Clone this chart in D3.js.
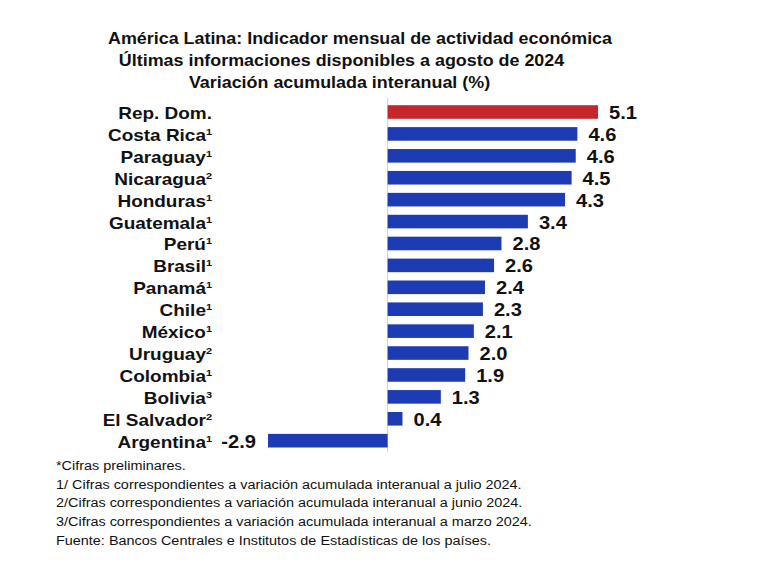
<!DOCTYPE html>
<html><head><meta charset="utf-8">
<script src="https://cdn.jsdelivr.net/npm/d3@7"></script>
<style>
html,body{margin:0;padding:0;background:#fff;}
svg{display:block;}
text{font-family:"Liberation Sans",Arial,Helvetica,sans-serif;}
</style></head>
<body>
<svg id="c" width="768" height="574"></svg>
<script>
const titleLines = [
  "América Latina: Indicador mensual de actividad económica",
  "Últimas informaciones disponibles a agosto de 2024",
  "Variación acumulada interanual (%)"
];
const countries = ["Rep. Dom.","Costa Rica","Paraguay","Nicaragua","Honduras","Guatemala","Perú","Brasil","Panamá","Chile","México","Uruguay","Colombia","Bolivia","El Salvador","Argentina"];
const notes = ["","1","1","2","1","1","1","1","1","1","1","2","1","3","2","1"];
const values = [5.1,4.6,4.56,4.46,4.3,3.4,2.76,2.58,2.36,2.31,2.09,1.96,1.88,1.29,0.36,-2.9];
const highlight = ["Rep. Dom."];
const footnotes = [
  "*Cifras preliminares.",
  "1/ Cifras correspondientes a variación acumulada interanual a julio 2024.",
  "2/Cifras correspondientes a variación acumulada interanual a junio 2024.",
  "3/Cifras correspondientes a variación acumulada interanual a marzo 2024.",
  "Fuente: Bancos Centrales e Institutos de Estadísticas de los países."
];

const svg = d3.select("#c");
const data = countries.map((c,i)=>({c, n:notes[i], v:values[i]}));

const x = d3.scaleLinear().domain([-2.9, 5.1]).range([268, 598]);
const y = d3.scaleBand().domain(countries).range([101.05, 451.65]).paddingInner(0.38).paddingOuter(0.19);

// title
const titleX = [360, 341.5, 339.5];
svg.append("g").selectAll("text").data(titleLines).join("text")
  .attr("transform",(d,i)=>`translate(${titleX[i]},${44+i*22}) scale(1.085,1)`)
  .attr("text-anchor","middle").attr("font-weight","bold").attr("font-size",16.5)
  .attr("fill","#111").text(d=>d);

// zero line
svg.append("line").attr("x1",x(0)).attr("x2",x(0)).attr("y1",98).attr("y2",452)
  .attr("stroke","#cfcfcf").attr("stroke-width",1);

// bars
svg.append("g").selectAll("rect").data(data).join("rect")
  .attr("x",d=>x(Math.min(0,d.v))).attr("width",d=>Math.abs(x(d.v)-x(0)))
  .attr("y",d=>y(d.c)).attr("height",y.bandwidth())
  .attr("fill",d=>highlight.includes(d.c)?"#c3272b":"#1d3bb3");

// value labels
const fmt = v => d3.format(".1f")(v).replace("\u2212","-");
svg.append("g").selectAll("text").data(data).join("text")
  .attr("transform",d=>`translate(${d.v>=0? x(d.v)+11 : x(d.v)-12},${y(d.c)+y.bandwidth()/2+7}) scale(1.15,1)`)
  .attr("text-anchor",d=>d.v>=0?"start":"end")
  .attr("font-weight","bold").attr("font-size",17.5).attr("fill","#111")
  .text(d=>fmt(d.v));

// country labels
const lab = svg.append("g").selectAll("text").data(data).join("text")
  .attr("transform",d=>`translate(212,${y(d.c)+y.bandwidth()/2+7}) scale(1.15,1)`)
  .attr("text-anchor","end").attr("font-weight","bold").attr("font-size",16.5).attr("fill","#111");
lab.append("tspan").text(d=>d.c);
lab.append("tspan").attr("font-size",9.5).attr("dy",-6).text(d=>d.n);

// footnotes
svg.append("g").selectAll("text").data(footnotes).join("text")
  .attr("transform",(d,i)=>`translate(56,${470+i*18.7}) scale(1.085,1)`)
  .attr("font-size",13.3).attr("fill","#111").text(d=>d);
</script>
</body></html>
